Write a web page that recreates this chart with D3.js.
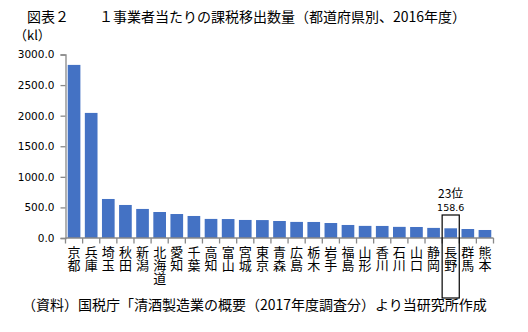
<!DOCTYPE html>
<html>
<head>
<meta charset="utf-8">
<script src="https://cdn.jsdelivr.net/npm/d3@7"></script>
<style>
  html, body { margin: 0; padding: 0; background: #fff; }
  svg { display: block; }
  .jp { font-family: "Noto Sans CJK JP", sans-serif; fill: #000; }
  .num { font-family: "DejaVu Sans", Verdana, sans-serif; fill: #000; }
  .vert { writing-mode: vertical-rl; text-orientation: upright; }
</style>
</head>
<body>
<svg id="chart" width="528" height="332"></svg>
<script>
// Prefectures, ordered by taxable shipment volume per brewer (kl), FY2016
const prefectures = ["京都","兵庫","埼玉","秋田","新潟","北海道","愛知","千葉","高知","富山",
  "宮城","東京","青森","広島","栃木","岩手","福島","山形","香川","石川","山口","静岡","長野","群馬","熊本"];
const volumes = [2830, 2045, 638, 540, 475, 425, 392, 360, 312, 310,
  295, 293, 278, 263, 262, 245, 213, 198, 197, 182, 180, 165, 158.6, 147, 131];
const yTicks = [0, 500, 1000, 1500, 2000, 2500, 3000];
const highlightName = "長野";
const highlightRank = "23位";

const svg = d3.select("#chart");
const axisColor = "#898989";

const x = d3.scaleBand()
  .domain(prefectures)
  .range([65.5, 493.5])
  .paddingInner(0.26)
  .paddingOuter(0.13);
const y = d3.scaleLinear().domain([0, 3000]).range([238, 54.5]);

// Titles
svg.append("text").attr("class", "jp").attr("x", 27).attr("y", 22)
  .attr("font-size", 14).text("図表２");
svg.append("text").attr("class", "jp").attr("x", 99).attr("y", 22)
  .attr("font-size", 14).text("１事業者当たりの課税移出数量（都道府県別、2016年度）");
svg.append("text").attr("class", "jp").attr("x", 14).attr("y", 40)
  .attr("font-size", 13).text("（kl）");

// Bars
svg.append("g").selectAll("rect").data(prefectures).join("rect")
  .attr("x", d => x(d))
  .attr("width", x.bandwidth())
  .attr("y", (d, i) => y(volumes[i]))
  .attr("height", (d, i) => y(0) - y(volumes[i]))
  .attr("fill", "#4472C4");

// Y axis
const yAxis = svg.append("g").attr("transform", "translate(65.5,0)")
  .call(d3.axisLeft(y).tickValues(yTicks).tickFormat(d3.format(".1f")).tickSize(5).tickPadding(6));
yAxis.select(".domain").attr("stroke", axisColor).attr("stroke-width", 1.3);
yAxis.selectAll(".tick line").attr("stroke", axisColor).attr("stroke-width", 1.3);
yAxis.selectAll(".tick text").attr("font-size", 10.5)
  .attr("font-family", "DejaVu Sans, Verdana, sans-serif").attr("fill", "#000");

// X axis: ticks between categories
const step = x.step();
const edge = d => x(d) - step * x.paddingOuter();
const xg = svg.append("g");
xg.append("line").attr("x1", 65.5).attr("x2", 493.5).attr("y1", 238).attr("y2", 238)
  .attr("stroke", axisColor).attr("stroke-width", 1.3);
xg.selectAll("line.tk").data(prefectures.concat(["__end"])).join("line").attr("class", "tk")
  .attr("x1", (d, i) => i < prefectures.length ? edge(d) : 493.5)
  .attr("x2", (d, i) => i < prefectures.length ? edge(d) : 493.5)
  .attr("y1", 238).attr("y2", 243.5)
  .attr("stroke", axisColor).attr("stroke-width", 1.3);

// Category labels, written vertically
svg.append("g").selectAll("text").data(prefectures).join("text")
  .attr("class", "jp vert").attr("font-size", 13)
  .attr("x", d => x(d) + x.bandwidth() / 2)
  .attr("y", 245.5)
  .text(d => d);

// Highlight for Nagano
const hi = volumes[prefectures.indexOf(highlightName)];
const hx = edge(highlightName);
svg.append("rect").attr("x", hx).attr("y", 215).attr("width", step).attr("height", 83)
  .attr("fill", "none").attr("stroke", "#000").attr("stroke-width", 1.2);
svg.append("text").attr("class", "jp").attr("x", hx + step / 2).attr("y", 198)
  .attr("text-anchor", "middle").attr("font-size", 12).text(highlightRank);
svg.append("text").attr("class", "num").attr("x", hx + step / 2).attr("y", 211)
  .attr("text-anchor", "middle").attr("font-size", 9.5).text(d3.format(".1f")(hi));

// Source note
svg.append("text").attr("class", "jp").attr("x", 22).attr("y", 309.5)
  .attr("font-size", 14).text("（資料）国税庁「清酒製造業の概要（2017年度調査分）より当研究所作成");
</script>
</body>
</html>
